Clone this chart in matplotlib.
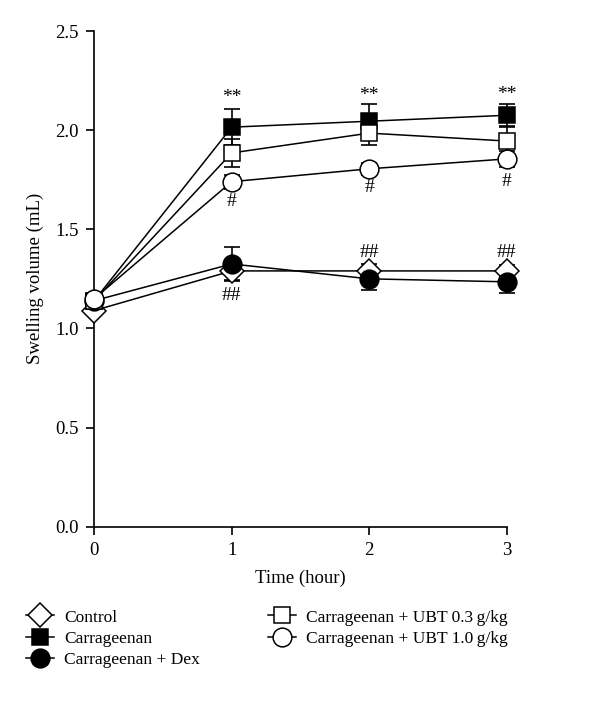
import numpy as np
import matplotlib.pyplot as plt

plt.rcParams['font.family'] = ['Liberation Serif', 'DejaVu Serif']

hours = [0, 1, 2, 3]

control = [1.09, 1.29, 1.29, 1.29]
control_err = [0.0, 0.045, 0.035, 0.03]
carr = [1.14, 2.015, 2.045, 2.075]
carr_err = [0.0, 0.09, 0.085, 0.055]
dex = [1.14, 1.325, 1.25, 1.235]
dex_err = [0.0, 0.085, 0.055, 0.055]
ubt03 = [1.14, 1.885, 1.985, 1.945]
ubt03_err = [0.0, 0.07, 0.06, 0.07]
ubt10 = [1.15, 1.74, 1.805, 1.855]
ubt10_err = [0.0, 0.035, 0.03, 0.04]

labels = ["Control", "Carrageenan", "Carrageenan + Dex",
          "Carrageenan + UBT 0.3\u2009g/kg", "Carrageenan + UBT 1.0\u2009g/kg"]

# significance marks: (hour, y, text)
star_marks = [(1, 2.165, "**"), (2, 2.175, "**"), (3, 2.18, "**")]
hash_marks = [(1, 1.64, "#"), (2, 1.71, "#"), (3, 1.74, "#"),
              (1, 1.165, "##"), (2, 1.385, "##"), (3, 1.385, "##")]

fig = plt.figure(figsize=(6, 7.03), dpi=100)
ax = fig.add_axes([0.157, 0.2508, 0.6875, 0.7051])

series = [
    (control, control_err, 'D', 'white', 12),
    (carr, carr_err, 's', 'black', 12),
    (dex, dex_err, 'o', 'black', 13.5),
    (ubt03, ubt03_err, 's', 'white', 12),
    (ubt10, ubt10_err, 'o', 'white', 13.5),
]

handles = []
for (vals, errs, mk, fc, ms), lab in zip(series, labels):
    ax.errorbar(hours, vals, yerr=errs, fmt='none', ecolor='black',
                elinewidth=1.2, capsize=6, capthick=1.2, zorder=2)
    h, = ax.plot(hours, vals, color='black', lw=1.1, marker=mk, ms=ms,
                 mfc=fc, mec='black', mew=1.1, zorder=3, label=lab)
    handles.append(h)

for x, y, t in star_marks + hash_marks:
    ax.text(x, y, t, ha='center', va='center', fontsize=14)

ax.set_xlim(0, 3)
ax.set_ylim(0, 2.5)
ax.set_xticks([0, 1, 2, 3])
ax.set_yticks([0.0, 0.5, 1.0, 1.5, 2.0, 2.5])
ax.set_yticklabels(["0.0", "0.5", "1.0", "1.5", "2.0", "2.5"])
ax.spines['top'].set_visible(False)
ax.spines['right'].set_visible(False)
for s in ['left', 'bottom']:
    ax.spines[s].set_linewidth(1.2)
ax.tick_params(direction='out', length=6, width=1.2, labelsize=13.5, pad=5)
ax.set_xlabel("Time (hour)", fontsize=13.5, labelpad=8)
ax.set_ylabel("Swelling volume (mL)", fontsize=13.5, labelpad=8)
for art in ax.lines + ax.collections:
    art.set_clip_on(False)

fig.legend(handles=handles, loc='upper left', bbox_to_anchor=(0.032, 0.143),
           ncol=2, frameon=False, fontsize=12.5, handlelength=1.6,
           handletextpad=0.6, columnspacing=3.9, labelspacing=0.3,
           borderaxespad=0)

fig.savefig("out.png", dpi=100)
